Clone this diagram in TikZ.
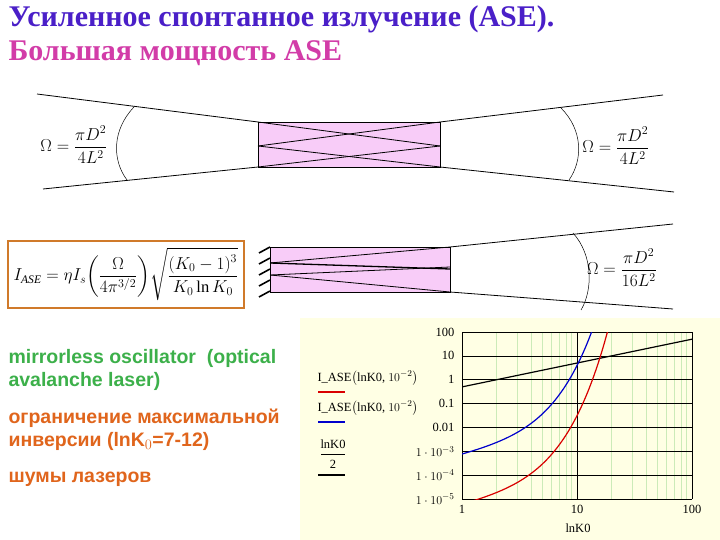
\documentclass[tikz,border=0pt]{standalone}
\usepackage{fontspec}
\setmainfont{Liberation Serif}
\setsansfont{Liberation Sans}
\usepackage{amsmath}
\definecolor{tblue}{HTML}{4A1FC8}
\definecolor{tpink}{HTML}{D23CA8}
\definecolor{tgreen}{HTML}{3CB04A}
\definecolor{torange}{HTML}{E0651C}
\definecolor{boxpink}{HTML}{F8CCF8}
\definecolor{plotbg}{HTML}{FFFFE4}
\definecolor{gridgreen}{HTML}{CCEBB8}
\definecolor{fborder}{HTML}{D07A2A}
\tikzset{
  ln/.style={line width=0.8pt},
  cavity/.style={draw, fill=boxpink, line width=0.8pt},
  ttl/.style={anchor=west, font=\fontsize{30}{33}\selectfont\bfseries},
  side/.style={anchor=north west, align=left, font=\sffamily\bfseries\fontsize{19.5}{23}\selectfont},
  fml/.style={font=\fontsize{18}{21}\selectfont},
  tick/.style={font=\fontsize{12.5}{14}\selectfont},
}
\newcommand{\Xc}[1]{462+115*log10(#1)}
\begin{document}
\begin{tikzpicture}[x=1pt,y=-1pt]
\useasboundingbox (0,0) rectangle (720,540);
\fill[white] (0,0) rectangle (720,540);
% titles
\node[ttl, text=tblue] (t1) at (5,19) {Усиленное спонтанное излучение (ASE).};
\node[ttl, text=tpink] (t2) at (5,53) {Большая мощность ASE};
% top cavity
\coordinate (a1) at (37,94); \coordinate (a2) at (43,189);
\coordinate (b1) at (663,95); \coordinate (b2) at (674,192);
\draw[cavity] (258,122) rectangle (440,167);
\coordinate (tl) at (258,122); \coordinate (bl) at (258,167);
\coordinate (tr) at (440,122); \coordinate (br) at (440,167);
\coordinate (lm) at (258,146); \coordinate (rm) at (440,146);
\draw[ln] (a1) -- (tl); \draw[ln] (a2) -- (bl);
\draw[ln] (b1) -- (tr); \draw[ln] (b2) -- (br);
\draw[ln] (tl) -- (rm); \draw[ln] (lm) -- (tr);
\draw[ln] (lm) -- (br); \draw[ln] (bl) -- (rm);
\draw[line width=0.5pt] (134,107) .. controls (112,130) and (112,160) .. (127,180);
\draw[line width=0.5pt] (561,108) .. controls (583,130) and (583,160) .. (569,180);
\node[fml] (o1) at (74,145) {$\Omega=\dfrac{\pi D^2}{4L^2}$};
\node[fml] (o2) at (616,146) {$\Omega=\dfrac{\pi D^2}{4L^2}$};
% bottom cavity
\draw[cavity] (270,247) rectangle (450,292);
\coordinate (c1) at (673,224); \coordinate (c2) at (673,309);
\draw[ln] (450,247) -- (c1); \draw[ln] (450,292) -- (c2);
\draw[ln] (270,263) -- (450,247);
\draw[ln] (270,275) -- (450,292);
\draw[line width=1.3pt] (270,263) -- (450,269);
\draw[ln] (270,275) -- (450,267);
\foreach \yy in {248,259,270,281,292}{
  \draw[line width=1.6pt] (259,\yy+5) -- (270,\yy-1);
}
\draw[line width=0.5pt] (573,233) .. controls (593,255) and (593,290) .. (581,310);
\node[fml] (o3) at (622,268) {$\Omega=\dfrac{\pi D^2}{16L^2}$};
% formula box
\draw[fborder, line width=1.8pt] (8,241) rectangle (244,308);
\node[font=\fontsize{16.5}{19}\selectfont] (iase) at (126,274)
 {$I_{\mathit{ASE}}=\eta I_s\!\left(\dfrac{\Omega}{4\pi^{3/2}}\right)\!\sqrt{\dfrac{(K_0-1)^3}{K_0\ln K_0}}$};
% side texts
\node[side, text=tgreen] (s1) at (5,346) {mirrorless oscillator\ \ (optical\\avalanche laser)};
\node[side, text=torange] (s2) at (5,405) {ограничение максимальной\\инверсии (lnK$_0$=7-12)};
\node[side, text=torange] (s3) at (5,468) {шумы лазеров};
% plot
\fill[plotbg] (300,318) rectangle (720,540);
\foreach \m in {2,...,9}{
  \draw[gridgreen, line width=0.6pt] ({\Xc{\m}},332) -- ({\Xc{\m}},499);
  \draw[gridgreen, line width=0.6pt] ({\Xc{10*\m}},332) -- ({\Xc{10*\m}},499);
}
\foreach \k in {0,...,7}{
  \draw[line width=0.6pt] (462,499-23.857*\k) -- (692,499-23.857*\k);
}
\draw[line width=0.6pt] (462,332) -- (462,499);
\draw[line width=0.6pt] (577,332) -- (577,499);
\draw[line width=0.6pt] (692,332) -- (692,499);
\begin{scope}
\clip (462,332) rectangle (692,499);
\draw[line width=1.2pt] plot[domain=1:100, samples=10] ({\Xc{\x}},{499-23.857*(log10(\x/2)+5)});
\draw[red!85!black, line width=1.2pt, smooth] plot[domain=1:19, samples=60]
  ({\Xc{\x}},{499-23.857*(-5.35+0.4343*\x+0.6514*ln(1-exp(-\x))-0.2171*ln(\x)+5)});
\draw[blue!80!black, line width=1.2pt, smooth] plot[domain=1:14.5, samples=60]
  ({\Xc{\x}},{499-23.857*(-3.25+0.4343*\x+0.6514*ln(1-exp(-\x))-0.2171*ln(\x)+5)});
\end{scope}
\foreach \lab [count=\k from 0] in {{$1\cdot10^{-5}$},{$1\cdot10^{-4}$},{$1\cdot10^{-3}$},0.01,0.1,1,10,100}{
  \node[tick, anchor=east] at (458,499-23.857*\k) {\lab};
}
\node[tick] (x1) at (462,509) {1};
\node[tick] (x2) at (577,509) {10};
\node[tick] (x3) at (692,509) {100};
\node[tick] (xl) at (578,528) {lnK0};
% legend
\node[tick, anchor=west] (l1) at (314,378) {I\_ASE$\bigl($lnK0, $10^{-2}\bigr)$};
\draw[red!85!black, line width=1.2pt] (318,392) -- (345,392);
\node[tick, anchor=west] (l2) at (314,408) {I\_ASE$\bigl($lnK0, $10^{-2}\bigr)$};
\draw[blue!80!black, line width=1.2pt] (318,422) -- (345,422);
\node[tick] (l3) at (333,444) {lnK0};
\draw[line width=0.5pt] (321,454) -- (345,454);
\node[tick] (l4) at (333,464) {2};
\draw[line width=1.4pt] (318,475) -- (345,475);
\end{tikzpicture}
\end{document}
